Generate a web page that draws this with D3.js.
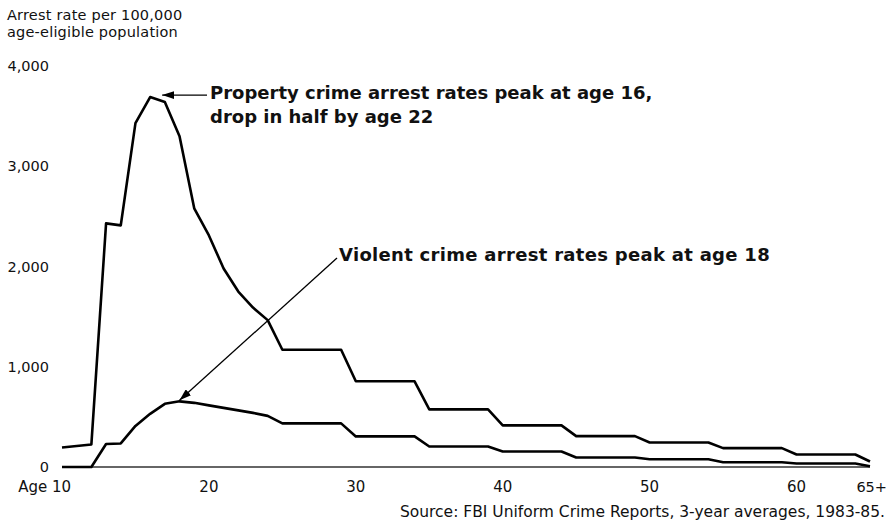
<html lang="en">
<head>
<meta charset="utf-8">
<title>Arrest rates by age</title>
<script src="https://cdn.jsdelivr.net/npm/d3@7/dist/d3.min.js"></script>
<style>
  body { margin: 0; background: #fff; }
  text { font-family: "DejaVu Sans", "Liberation Sans", Arial, sans-serif; fill: #111; }
</style>
</head>
<body></body>
<script type="text/javascript">

//****************************************************************************************************************************//
// Data

// single years of age
var singleAges = [10, 11, 12, 13, 14, 15, 16, 17, 18, 19, 20, 21, 22, 23, 24];
var propertySingle = [195, 210, 225, 2430, 2410, 3430, 3690, 3640, 3300, 2580, 2310, 1980, 1750, 1590, 1465];
var violentSingle  = [0, 0, 0, 230, 235, 410, 530, 630, 655, 640, 615, 590, 565, 540, 510];

// five-year age groups, drawn as flat steps
var groupStart = [25, 30, 35, 40, 45, 50, 55, 60];
var groupEnd   = [29, 34, 39, 44, 49, 54, 59, 64];
var propertyGroups = [1170, 855, 575, 415, 308, 245, 188, 125];
var violentGroups  = [435, 305, 205, 155, 95, 78, 48, 35];

// 65 and over
var lastAge = 65;
var propertyLast = 55;
var violentLast = 8;

var yTicks = [0, 1000, 2000, 3000, 4000];
var xTicks = [10, 20, 30, 40, 50, 60, 65];
var xTickLabels = ["Age 10", "20", "30", "40", "50", "60", "65+"];

//****************************************************************************************************************************//
// Canvas

var width = 890,
    height = 529;

var canvas = d3.select("body")
            .append("svg")
            .attr("width", width)
            .attr("height", height);

var x = d3.scaleLinear().domain([10, 65]).range([62, 870]);
var y = d3.scaleLinear().domain([0, 4000]).range([467, 66]);

function buildSeries(single, groups, last){
    var pts = [];
    singleAges.forEach(function(a, i){ pts.push([a, single[i]]); });
    groupStart.forEach(function(a, i){
        pts.push([a, groups[i]]);
        pts.push([groupEnd[i], groups[i]]);
    });
    pts.push([lastAge, last]);
    return pts;
}

var propertySeries = buildSeries(propertySingle, propertyGroups, propertyLast);
var violentSeries  = buildSeries(violentSingle, violentGroups, violentLast);

var line = d3.line()
    .x(function(d){ return x(d[0]); })
    .y(function(d){ return y(d[1]); });

//****************************************************************************************************************************//
// Axis titles and ticks

canvas.append("text")
    .attr("x", 7).attr("y", 20)
    .attr("font-size", 14.5).attr("letter-spacing", 0.2)
    .text("Arrest rate per 100,000");

canvas.append("text")
    .attr("x", 7).attr("y", 37)
    .attr("font-size", 14.5).attr("letter-spacing", 0.2)
    .text("age-eligible population");

canvas.selectAll(".ytick")
    .data(yTicks)
    .enter().append("text")
    .attr("class", "ytick")
    .attr("x", 49)
    .attr("y", function(d){ return y(d); })
    .attr("dy", "0.36em")
    .attr("text-anchor", "end")
    .attr("font-size", 14.5)
    .text(function(d){ return d3.format(",")(d); });

canvas.selectAll(".xtick")
    .data(xTicks)
    .enter().append("text")
    .attr("class", "xtick")
    .attr("x", function(d, i){
        if(i == 0) return x(d) + 9;
        if(i == xTicks.length - 1) return 887;
        return x(d);
    })
    .attr("y", 492)
    .attr("text-anchor", function(d, i){
        if(i == 0) return "end";
        if(i == xTicks.length - 1) return "end";
        return "middle";
    })
    .attr("font-size", function(d, i){ return i == xTicks.length - 1 ? 14.5 : 15; })
    .text(function(d, i){ return xTickLabels[i]; });

canvas.append("text")
    .attr("x", 885).attr("y", 517)
    .attr("text-anchor", "end")
    .attr("font-size", 15.5)
    .text("Source: FBI Uniform Crime Reports, 3-year averages, 1983-85.");

// baseline
canvas.append("line")
    .attr("x1", x(10)).attr("x2", x(65))
    .attr("y1", y(0)).attr("y2", y(0))
    .attr("stroke", "#333")
    .attr("stroke-width", 1.5);

//****************************************************************************************************************************//
// Lines

canvas.append("path")
    .datum(propertySeries)
    .attr("d", line)
    .attr("fill", "none")
    .attr("stroke", "#000")
    .attr("stroke-width", 2.6)
    .attr("stroke-linejoin", "round");

canvas.append("path")
    .datum(violentSeries)
    .attr("d", line)
    .attr("fill", "none")
    .attr("stroke", "#000")
    .attr("stroke-width", 2.6)
    .attr("stroke-linejoin", "round");

//****************************************************************************************************************************//
// Annotations

canvas.append("defs").append("marker")
    .attr("id", "arrow")
    .attr("viewBox", "0 0 12 8")
    .attr("refX", 12).attr("refY", 4)
    .attr("markerWidth", 12).attr("markerHeight", 8)
    .attr("markerUnits", "userSpaceOnUse")
    .attr("orient", "auto")
    .append("path")
    .attr("d", "M0,0 L12,4 L0,8 Z")
    .attr("fill", "#000");

// property peak at 16
canvas.append("line")
    .attr("x1", 207).attr("y1", y(3690) - 2)
    .attr("x2", x(16) + 12).attr("y2", y(3690) - 2)
    .attr("stroke", "#000").attr("stroke-width", 1.3)
    .attr("marker-end", "url(#arrow)");

canvas.append("text")
    .attr("x", 210).attr("y", 99)
    .attr("font-size", 18).attr("font-weight", "bold")
    .text("Property crime arrest rates peak at age 16,");

canvas.append("text")
    .attr("x", 210).attr("y", 123)
    .attr("font-size", 18).attr("font-weight", "bold")
    .text("drop in half by age 22");

// violent peak at 18
canvas.append("line")
    .attr("x1", 337).attr("y1", 258)
    .attr("x2", x(18)).attr("y2", y(655) - 1)
    .attr("stroke", "#000").attr("stroke-width", 1.3)
    .attr("marker-end", "url(#arrow)");

canvas.append("text")
    .attr("x", 339).attr("y", 261)
    .attr("font-size", 18).attr("font-weight", "bold").attr("letter-spacing", 0.3)
    .text("Violent crime arrest rates peak at age 18");

</script>
</html>
